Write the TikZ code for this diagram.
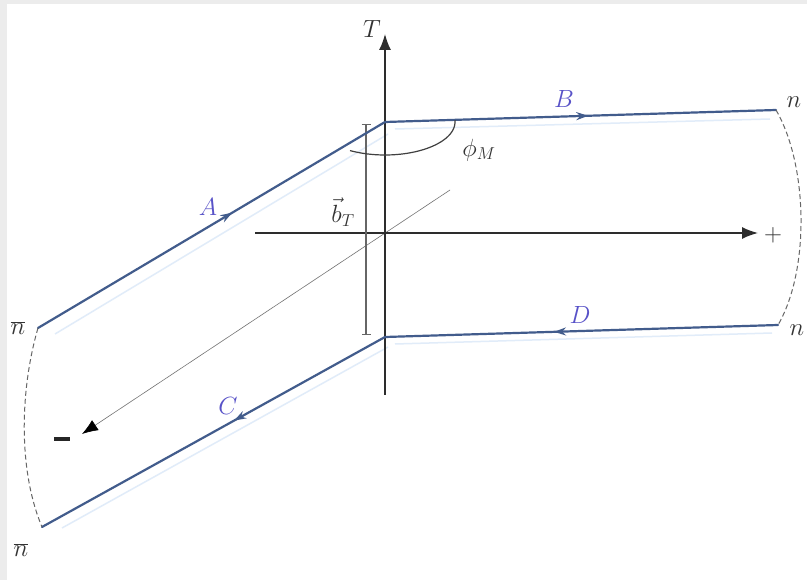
\documentclass[tikz,border=0pt]{standalone}
\usetikzlibrary{arrows.meta,decorations.markings}
\definecolor{pathcol}{RGB}{66,92,140}
\definecolor{labcol}{RGB}{88,82,200}
\definecolor{faintcol}{RGB}{225,236,249}
\definecolor{axcol}{RGB}{45,45,45}
\definecolor{bordcol}{RGB}{236,236,236}
\begin{document}
\begin{tikzpicture}[x=1pt,y=-1pt,
  wl/.style={draw=pathcol, line width=2.2pt, line cap=round},
  faint/.style={draw=faintcol, line width=1.5pt},
  axis/.style={draw=axcol, line width=1.5pt, -{Latex[length=16pt,width=12pt]}},
  midarrow/.style={postaction={decorate},decoration={markings,mark=at position #1 with {\arrow[pathcol]{Stealth[length=12pt,width=8pt]}}}},
  lab/.style={text=labcol, font=\fontsize{23}{26}\selectfont, inner sep=0pt},
  blk/.style={text=black!80, font=\fontsize{23}{26}\selectfont, inner sep=0pt},
  dsh/.style={draw=black!60, line width=1pt, dash pattern=on 5pt off 3pt}]
% background with light border
\fill[bordcol] (0,0) rectangle (807,580);
\fill[white] (7,4) rectangle (807,580);
\useasboundingbox (0,0) rectangle (807,580);
% coordinates
\coordinate (O) at (385,233);
\coordinate (P1) at (385,122);
\coordinate (P2) at (385,337);
\coordinate (Nb1) at (38,328);
\coordinate (Nb2) at (42,527);
\coordinate (N1) at (776,110);
\coordinate (N2) at (778,325);
\coordinate (Tb) at (385,395);
\coordinate (Tt) at (385,34);
\coordinate (Xl) at (255,233);
\coordinate (Xr) at (758,233);
\coordinate (Mu) at (450,190);
\coordinate (Md) at (82,434);
\coordinate (Bt) at (366,124);
\coordinate (Bb) at (366,335);
% faint companion lines
\draw[faint] (55,334) -- (388,134);
\draw[faint] (395,129) -- (770,119);
\draw[faint] (62,528) -- (388,347);
\draw[faint] (395,344) -- (772,333);
% axes
\draw[draw=black!55, line width=0.6pt, -{Latex[length=16pt,width=12pt,color=black]}] (Mu) -- (Md);
\draw[axis] (Tb) -- (Tt);
\draw[axis] (Xl) -- (Xr);
% b_T bar
\draw[draw=black!60, line width=1.2pt, {Bar[width=9pt]}-{Bar[width=9pt]}] (Bt) -- (Bb);
% Wilson lines
\draw[wl, midarrow=0.56] (Nb1) -- (P1);
\draw[wl, midarrow=0.52] (P1) -- (N1);
\draw[wl, midarrow=0.44] (P2) -- (Nb2);
\draw[wl, midarrow=0.57] (N2) -- (P2);
% dashed closures
\draw[dsh] (Nb1) .. controls (20,390) and (18,470) .. (Nb2);
\draw[dsh] (N1) .. controls (808,165) and (810,270) .. (N2);
% angle arc
\draw[draw=black!75, line width=1.2pt] plot[domain=120:-3, samples=50, smooth] ({385+70*cos(\x)},{122+33*sin(\x)});
% labels
\node[lab] (lA) at (208,207) {$A$};
\node[lab] (lB) at (564,99) {$B$};
\node[lab] (lC) at (228,406) {$C$};
\node[lab] (lD) at (580,315) {$D$};
\node[blk] (lT) at (372,29) {$T$};
\node[blk] (lplus) at (773,235) {$+$};
\node[fill=black!85, minimum width=16pt, minimum height=3.2pt, inner sep=0pt] (lminus) at (62,439) {};
\node[blk] (lnb1) at (18,328) {$\overline{n}$};
\node[blk] (lnb2) at (21,550) {$\overline{n}$};
\node[blk] (ln1) at (794,102) {$n$};
\node[blk] (ln2) at (797,330) {$n$};
\node[blk] (lphi) at (479,150) {$\phi_M$};
\node[blk] (lb) at (343,212) {$\vec{b}_T$};
\end{tikzpicture}
\end{document}
